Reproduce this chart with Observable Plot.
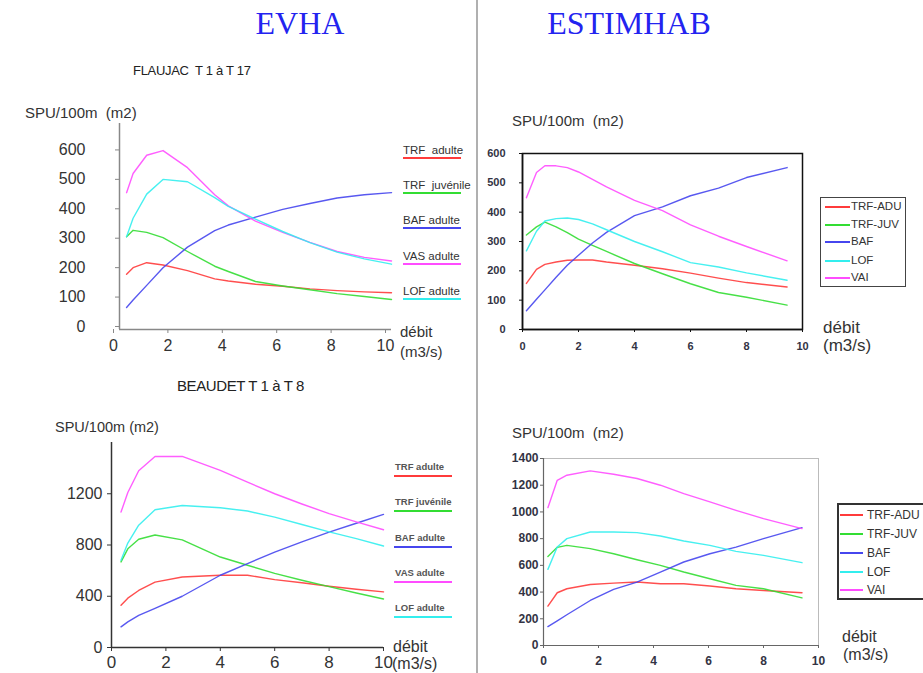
<!DOCTYPE html>
<html><head><meta charset="utf-8">
<script src="https://cdn.jsdelivr.net/npm/d3@7"></script>
<script src="https://cdn.jsdelivr.net/npm/@observablehq/plot@0.6"></script>
<style>
body{margin:0;background:#fff}
#page{position:relative;width:923px;height:673px;overflow:hidden;background:#fff;font-family:"Liberation Sans",Arial,sans-serif;color:#333}
.t{position:absolute;white-space:pre;line-height:1;transform:translateY(-50%)}
#page svg{position:absolute;left:0;top:0}
</style></head><body><div id="page"></div>
<script>
// ---------- DATA ----------
// EVHA – Flaujac T1 à T17
const flaujacEvhaX        = [0.26, 0.5, 1.0, 1.6, 2.5, 3.5, 4, 5, 6, 7, 8, 9, 10];
const flaujacEvhaTRFadu   = [188, 210, 227, 219, 200, 172, 165, 154, 147, 138, 132, 128, 125];
const flaujacEvhaTRFjuv   = [315, 337, 330, 312, 265, 215, 197, 163, 148, 135, 122, 112, 102];
const flaujacEvhaBAF      = [75, 100, 150, 210, 280, 336, 355, 382, 408, 428, 447, 458, 465];
const flaujacEvhaVAS      = [465, 530, 592, 608, 550, 458, 420, 368, 330, 296, 265, 245, 233];
const flaujacEvhaLOF      = [315, 378, 460, 510, 502, 448, 418, 375, 333, 295, 263, 240, 222];

// ESTIMHAB – Flaujac
const flaujacEstX         = [0.14, 0.5, 0.8, 1.2, 1.6, 2, 2.5, 3, 4, 5, 6, 7, 8, 9.45];
const flaujacEstTRFadu    = [157, 205, 222, 230, 236, 237, 237, 230, 219, 207, 192, 175, 160, 145];
const flaujacEstTRFjuv    = [322, 350, 366, 350, 330, 308, 287, 266, 225, 190, 156, 126, 110, 83];
const flaujacEstBAF       = [64, 103, 135, 178, 219, 253, 295, 331, 388, 418, 456, 482, 518, 552];
const flaujacEstLOF       = [268, 335, 370, 378, 380, 375, 360, 340, 300, 265, 228, 213, 193, 168];
const flaujacEstVAI       = [449, 535, 558, 558, 552, 537, 512, 486, 440, 405, 357, 318, 283, 234];

// EVHA – Beaudet T1 à T8
const beaudetEvhaX        = [0.35, 0.6, 1.0, 1.6, 2.6, 4, 5, 6, 7, 8, 9, 10];
const beaudetEvhaTRFadu   = [330, 385, 445, 510, 550, 564, 564, 530, 505, 478, 455, 434];
const beaudetEvhaTRFjuv   = [668, 770, 845, 878, 840, 706, 642, 578, 525, 475, 425, 379];
const beaudetEvhaBAF      = [161, 200, 250, 305, 400, 564, 655, 745, 825, 901, 970, 1039];
const beaudetEvhaVAS      = [1057, 1210, 1380, 1491, 1491, 1382, 1290, 1200, 1120, 1045, 980, 919];
const beaudetEvhaLOF      = [681, 815, 955, 1075, 1108, 1091, 1065, 1018, 960, 902, 850, 792];

// ESTIMHAB – Beaudet
const beaudetEstX         = [0.16, 0.5, 0.85, 1.7, 2.55, 3.4, 4.25, 5.1, 6.05, 7, 8, 9.4];
const beaudetEstTRFadu    = [295, 395, 425, 457, 467, 475, 462, 462, 445, 425, 412, 395];
const beaudetEstTRFjuv    = [667, 735, 750, 725, 687, 642, 600, 550, 500, 450, 425, 357];
const beaudetEstBAF       = [142, 185, 230, 337, 420, 475, 550, 625, 687, 737, 800, 882];
const beaudetEstLOF       = [570, 737, 800, 850, 850, 845, 820, 782, 750, 705, 675, 620];
const beaudetEstVAI       = [1032, 1237, 1275, 1307, 1282, 1250, 1200, 1137, 1075, 1012, 950, 875];

const evhaNames      = ["TRF  adulte", "TRF  juvénile", "BAF adulte", "VAS adulte", "LOF adulte"];
const evhaColors     = ["#ff3b3b", "#33dd33", "#4646ee", "#ff4cff", "#33eeee"];
const estNames       = ["TRF-ADU", "TRF-JUV", "BAF", "LOF", "VAI"];
const estColors      = ["#ff3b3b", "#33dd33", "#4646ee", "#33eeee", "#ff4cff"];

const xTicks         = [0, 2, 4, 6, 8, 10];
const flaujacEvhaYTicks = [0, 100, 200, 300, 400, 500, 600];
const flaujacEstYTicks  = [0, 100, 200, 300, 400, 500, 600];
const beaudetEvhaYTicks = [0, 400, 800, 1200];
const beaudetEstYTicks  = [0, 200, 400, 600, 800, 1000, 1200, 1400];

// ---------- helpers ----------
const W = 923, H = 673;
const page = document.getElementById("page");
function longData(xs, names, seriesArrays) {
  const out = [];
  names.forEach((n, i) => seriesArrays[i].forEach((v, j) => out.push({x: xs[j], y: v, s: n})));
  return out;
}
function addText(txt, x, y, css) {
  const d = document.createElement("div");
  d.className = "t"; d.textContent = txt;
  d.style.left = x + "px"; d.style.top = y + "px";
  Object.assign(d.style, css || {});
  page.appendChild(d);
  return d;
}
function addBox(x, y, w, h, css) {
  const d = document.createElement("div");
  Object.assign(d.style, {position: "absolute", left: x + "px", top: y + "px", width: w + "px", height: h + "px", boxSizing: "border-box"}, css);
  page.appendChild(d);
  return d;
}
function place(svg) { page.appendChild(svg); }
const plain = d => String(d);

function panel(o) {
  const marks = [];
  if (o.frame) marks.push(Plot.frame({stroke: o.frame, strokeWidth: o.frameWidth || 1}));
  marks.push(Plot.ruleX([0], {y1: o.yDomain[0], y2: o.yDomain[1], stroke: o.axisColor, strokeWidth: o.axisWidth}));
  marks.push(Plot.ruleY([0], {x1: o.xDomain[0], x2: o.xDomain[1], stroke: o.axisColor, strokeWidth: o.axisWidth}));
  marks.push(Plot.axisY(o.yTicks, Object.assign({anchor: "left", tickSize: o.yTickSize, tickPadding: o.yTickPadding, stroke: o.axisColor, fill: o.labelColor, fontSize: o.yFont, fontWeight: o.fontWeight || "normal", label: null, tickFormat: plain}, o.yAxisExtra || {})));
  marks.push(Plot.axisX(xTicks, Object.assign({anchor: "bottom", tickSize: o.xTickSize, tickPadding: o.xTickPadding, stroke: o.axisColor, fill: o.labelColor, fontSize: o.xFont, fontWeight: o.fontWeight || "normal", label: null, tickFormat: plain}, o.xAxisExtra || {})));
  marks.push(Plot.line(o.data, {x: "x", y: "y", z: "s", stroke: "s", strokeWidth: 1.4, strokeOpacity: 0.9}));
  return Plot.plot({
    width: W, height: H,
    marginLeft: o.rect[0], marginRight: W - o.rect[2], marginTop: o.rect[1], marginBottom: H - o.rect[3],
    style: {background: "transparent", fontFamily: "'Liberation Sans', Arial, sans-serif", overflow: "visible"},
    x: {domain: o.xDomain},
    y: {domain: o.yDomain},
    color: {domain: o.names, range: o.colors},
    marks
  });
}

// ---------- separator & titles ----------
addBox(476, 0, 2, H, {background: "#b0b0b0"});
addText("EVHA", 300, 22.5, {fontFamily: "'Liberation Serif', 'Times New Roman', serif", fontSize: "32px", color: "#2323f0", transform: "translate(-50%,-50%)"});
addText("ESTIMHAB", 629, 22.5, {fontFamily: "'Liberation Serif', 'Times New Roman', serif", fontSize: "32px", color: "#2323f0", transform: "translate(-50%,-50%)"});
addText("FLAUJAC  T 1 à T 17", 133, 70, {fontSize: "13px", color: "#222", letterSpacing: "-0.3px"});

// ---------- Panel A: EVHA Flaujac ----------
place(panel({
  rect: [119, 123, 391, 329], xDomain: [0, 10], yDomain: [0, 700],
  yTicks: flaujacEvhaYTicks, xTicks,
  data: longData(flaujacEvhaX, evhaNames, [flaujacEvhaTRFadu, flaujacEvhaTRFjuv, flaujacEvhaBAF, flaujacEvhaVAS, flaujacEvhaLOF]),
  names: evhaNames, colors: evhaColors,
  axisColor: "#888", axisWidth: 1.5, labelColor: "#333",
  yTickSize: 4, yTickPadding: 30, yFont: 16, yAxisExtra: {dy: -3},
  xTickSize: 4, xTickPadding: 6, xFont: 16, xAxisExtra: {dx: -6}
}));
addText("SPU/100m  (m2)", 25, 112, {fontSize: "15px"});
addText("débit", 400, 331, {fontSize: "15px"});
addText("(m3/s)", 400, 351, {fontSize: "15px"});
const legA_text = [151, 186, 221, 257, 292];
evhaNames.forEach((n, i) => {
  addText(n, 403, legA_text[i], {fontSize: "11.5px", color: "#333"});
  addBox(403, legA_text[i] + 6, 58, 2, {background: evhaColors[i]});
});

// ---------- Panel B: ESTIMHAB Flaujac ----------
place(panel({
  rect: [522, 153, 802, 329], xDomain: [0, 10], yDomain: [0, 600],
  yTicks: flaujacEstYTicks, xTicks,
  data: longData(flaujacEstX, estNames, [flaujacEstTRFadu, flaujacEstTRFjuv, flaujacEstBAF, flaujacEstLOF, flaujacEstVAI]),
  names: estNames, colors: estColors,
  frame: "#111", frameWidth: 1.5,
  axisColor: "#111", axisWidth: 1.5, labelColor: "#334", fontWeight: "bold",
  yTickSize: 3, yTickPadding: 14, yFont: 11,
  xTickSize: 3, xTickPadding: 10, xFont: 11
}));
addText("SPU/100m  (m2)", 512, 120, {fontSize: "15px"});
addText("débit", 823, 327, {fontSize: "17px"});
addText("(m3/s)", 823, 345, {fontSize: "17px"});
addBox(820, 197, 86, 90, {border: "1.5px solid #444"});
const legB_rows = [207, 224.5, 242, 260.5, 278];
estNames.forEach((n, i) => {
  addBox(825, legB_rows[i] - 1, 25, 2, {background: estColors[i]});
  addText(n, 851, legB_rows[i], {fontSize: "11.5px", color: "#333"});
});

// ---------- Panel C: EVHA Beaudet ----------
addText("BEAUDET T 1 à T 8", 177, 385, {fontSize: "15px", color: "#222", letterSpacing: "-0.4px"});
place(panel({
  rect: [111, 442, 383, 647], xDomain: [0, 10], yDomain: [0, 1600],
  yTicks: beaudetEvhaYTicks, xTicks,
  data: longData(beaudetEvhaX, evhaNames, [beaudetEvhaTRFadu, beaudetEvhaTRFjuv, beaudetEvhaBAF, beaudetEvhaVAS, beaudetEvhaLOF]),
  names: evhaNames, colors: evhaColors,
  axisColor: "#333", axisWidth: 1.5, labelColor: "#333",
  yTickSize: 4, yTickPadding: 5, yFont: 16,
  xTickSize: 4, xTickPadding: 4, xFont: 17
}));
addText("SPU/100m (m2)", 55, 427, {fontSize: "14.5px"});
addText("débit", 393, 647, {fontSize: "16px"});
addText("(m3/s)", 392, 664, {fontSize: "16px"});
const legC_text = [467, 502, 538, 573, 608];
evhaNames.forEach((n, i) => {
  addText(n.replace("  ", " "), 395, legC_text[i], {fontSize: "9.5px", fontWeight: "bold", color: "#555"});
  addBox(394, legC_text[i] + 8, 58, 2, {background: evhaColors[i]});
});

// ---------- Panel D: ESTIMHAB Beaudet ----------
place(panel({
  rect: [543, 458, 818, 645], xDomain: [0, 10], yDomain: [0, 1400],
  yTicks: beaudetEstYTicks, xTicks,
  data: longData(beaudetEstX, estNames, [beaudetEstTRFadu, beaudetEstTRFjuv, beaudetEstBAF, beaudetEstLOF, beaudetEstVAI]),
  names: estNames, colors: estColors,
  frame: "#bbb", frameWidth: 1,
  axisColor: "#666", axisWidth: 1.2, labelColor: "#334", fontWeight: "bold",
  yTickSize: 3, yTickPadding: 2, yFont: 12,
  xTickSize: 3, xTickPadding: 8, xFont: 12
}));
addText("SPU/100m  (m2)", 512, 432, {fontSize: "15px"});
addText("débit", 842, 637, {fontSize: "16px"});
addText("(m3/s)", 843, 655, {fontSize: "16px"});
addBox(837, 503, 90, 97, {border: "2px solid #333"});
const legD_rows = [515, 534, 553, 572, 590];
estNames.forEach((n, i) => {
  addBox(840, legD_rows[i] - 1, 23, 2, {background: estColors[i]});
  addText(n, 867, legD_rows[i], {fontSize: "12px", color: "#333"});
});
</script></body></html>
